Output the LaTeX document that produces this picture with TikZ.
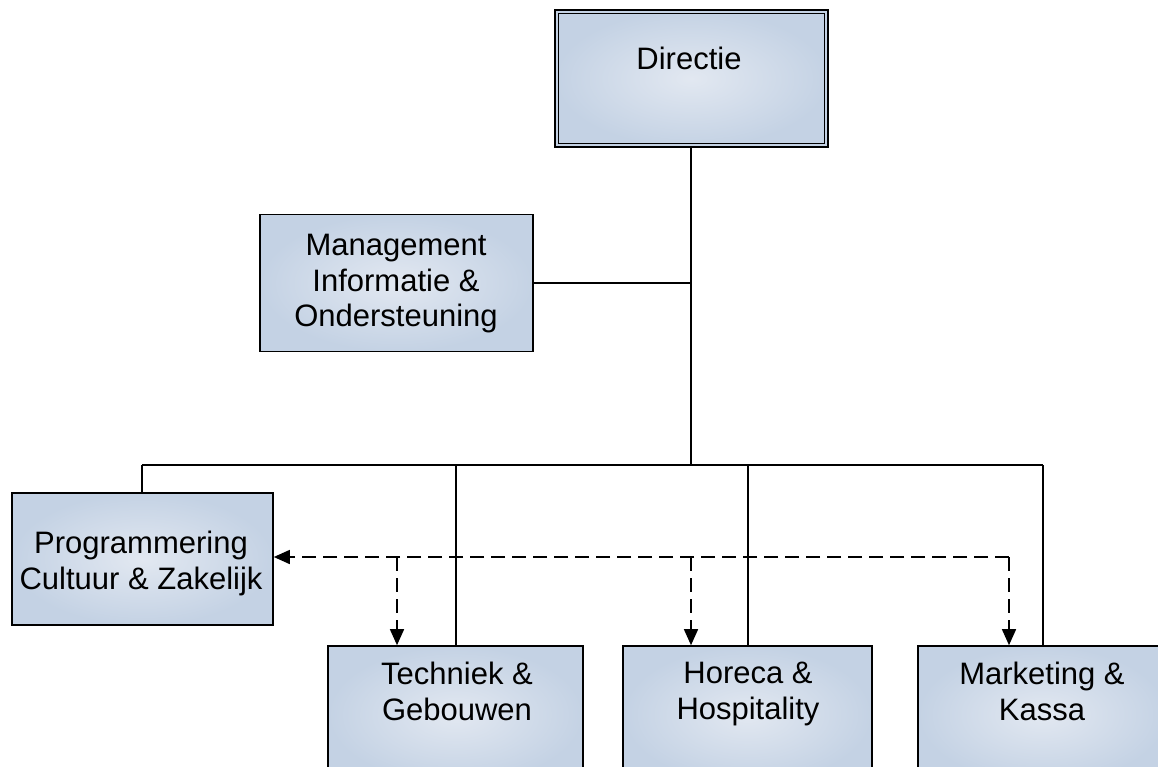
\documentclass[tikz,border=0pt]{standalone}
\usepackage{fontspec}
\setmainfont{Liberation Sans}
\usetikzlibrary{arrows.meta}

\definecolor{boxedge}{HTML}{C4D2E4}
\definecolor{boxmid}{HTML}{E2E8F1}

\tikzset{
  unit/.style={draw=black, line width=1.6pt, inner sep=0pt,
    inner color=boxmid, outer color=boxedge},
  txt/.style={font=\fontsize{31}{35.5}\selectfont, align=center, inner sep=0pt},
  link/.style={line width=1.7pt},
  dep/.style={line width=1.5pt, dash pattern=on 14pt off 7pt,
    -{Triangle[length=16pt,width=14pt]}},
}

\begin{document}
\begin{tikzpicture}[x=1pt,y=-1pt]
\useasboundingbox (0,0) rectangle (1158,767);
\begin{scope}
\clip (0,0) rectangle (1158,767);

% boxes
\node[unit, minimum width=273pt, minimum height=137pt] (dir) at (691.5,78.5) {};
\draw[line width=1.4pt] ([shift={(4.5pt,4.5pt)}]dir.south west) rectangle ([shift={(-4.5pt,-4.5pt)}]dir.north east);
\node[unit, minimum width=273pt, minimum height=137pt] (mio) at (396.5,283) {};
\node[unit, minimum width=261pt, minimum height=132pt] (prog) at (142.5,559) {};
\node[unit, minimum width=255pt, minimum height=137pt] (tech) at (455.5,714.5) {};
\node[unit, minimum width=249pt, minimum height=137pt] (hor) at (747.5,714.5) {};
\node[unit, minimum width=249pt, minimum height=137pt] (mark) at (1042.5,714.5) {};

% labels
\node[txt, anchor=base] (dir-t) at (689,70) {Directie};
\node[txt, anchor=north] (mio-t) at (396,234) {Management\\Informatie \&\\Ondersteuning};
\node[txt, anchor=north] (prog-t) at (141,531) {Programmering\\Cultuur \& Zakelijk};
\node[txt, anchor=north] (tech-t) at (457,662) {Techniek \&\\Gebouwen};
\node[txt, anchor=north] (hor-t) at (748,662) {Horeca \&\\Hospitality};
\node[txt, anchor=north] (mark-t) at (1042,662) {Marketing \&\\Kassa};

% reporting lines
\coordinate (trunk) at (691,465);
\coordinate (busL) at (142,465);
\coordinate (busR) at (1043,465);
\draw[link] (dir.south -| trunk) -- (trunk);
\draw[link] (mio.east) -- (mio.east -| trunk);
\draw[link] (busL) -- (busR);
\draw[link] (busL) -- (prog.north -| busL);
\draw[link] (tech.north -| 456,0) -- (456,465);
\draw[link] (hor.north -| 748,0) -- (748,465);
\draw[link] (busR) -- (mark.north -| busR);

% coordination lines
\coordinate (dc) at (1009,557);
\draw[dep] (dc) -- (prog.east |- dc);
\draw[dep] (dc) -- (mark.north -| dc);
\draw[dep] (397,557) -- (tech.north -| 397,0);
\draw[dep] (691,557) -- (hor.north -| 691,0);
\end{scope}
\end{tikzpicture}
\end{document}
